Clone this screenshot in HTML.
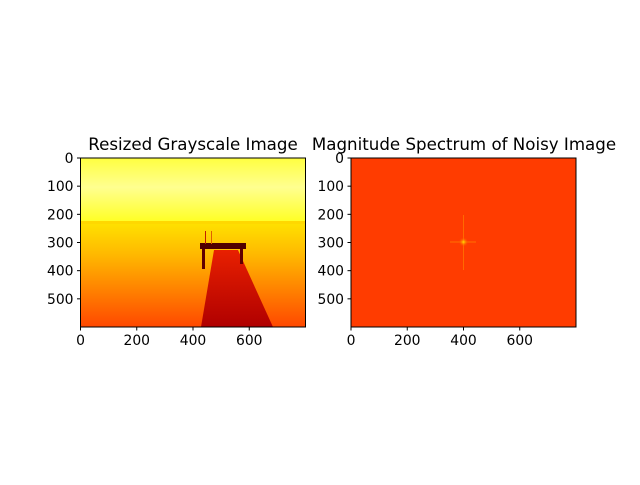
<!DOCTYPE html>
<html><head><meta charset="utf-8"><style>
body{margin:0;background:#fff;}
svg text{font-family:"DejaVu Sans","Liberation Sans",sans-serif;fill:#000;}
</style></head><body>
<svg id="fig" width="640" height="480" viewBox="0 0 640 480" xmlns="http://www.w3.org/2000/svg">
<defs>
<linearGradient id="sky" x1="0" y1="0" x2="0" y2="1">
<stop offset="0" stop-color="#ffff40"/><stop offset="0.45" stop-color="#ffff90"/><stop offset="1" stop-color="#ffff20"/>
</linearGradient>
<linearGradient id="water" x1="0" y1="0" x2="0" y2="1">
<stop offset="0" stop-color="#ffe000"/><stop offset="0.3" stop-color="#ffb800"/><stop offset="0.65" stop-color="#ff8000"/><stop offset="1" stop-color="#ff4800"/>
</linearGradient>
<radialGradient id="spot"><stop offset="0" stop-color="#ffe000"/><stop offset="1" stop-color="#ff3a00" stop-opacity="0"/></radialGradient>
<linearGradient id="pier" x1="0" y1="0" x2="0" y2="1"><stop offset="0" stop-color="#e82000"/><stop offset="1" stop-color="#b00000"/></linearGradient>
</defs>
<g id="left">
<text x="193" y="150" font-size="16.67" text-anchor="middle">Resized Grayscale Image</text>
<rect x="80.5" y="158" width="225" height="65" fill="url(#sky)"/>
<rect x="80.5" y="221" width="225" height="3" fill="#ffd800"/>
<rect x="80.5" y="224" width="225" height="103" fill="url(#water)"/>
<polygon points="201,327 214,250 238,250 273,327" fill="url(#pier)"/>
<rect x="200" y="243" width="46" height="6" fill="#500000"/>
<rect x="202" y="249" width="3" height="20" fill="#600000"/>
<rect x="240" y="249" width="3" height="15" fill="#600000"/>
<rect x="205" y="231" width="1" height="13" fill="#c02000"/>
<rect x="211" y="231" width="1" height="13" fill="#e06000"/>
<rect x="80.5" y="158" width="225" height="169" fill="none" stroke="#000" stroke-width="1"/>
<g id="lticks"></g>
</g>
<g id="right">
<text x="464" y="150" font-size="16.67" text-anchor="middle">Magnitude Spectrum of Noisy Image</text>
<rect x="351" y="158" width="225" height="169" fill="#ff3c00"/>
<rect x="463" y="215" width="1" height="55" fill="#ff6a00"/>
<rect x="450" y="241.5" width="26" height="1" fill="#ff7000"/>
<circle cx="463.5" cy="242" r="5" fill="url(#spot)"/>
<rect x="351" y="158" width="225" height="169" fill="none" stroke="#000" stroke-width="1"/>
<g id="rticks"></g>
</g>
</svg>
<script>
const xTicks=[0,200,400,600];
const yTicks=[0,100,200,300,400,500];
const W=800,H=600;
const NS="http://www.w3.org/2000/svg";
function axes(g,x0,y0,w,h,pre){
  const sx=v=>x0+v*w/W, sy=v=>y0+v*h/H;
  xTicks.forEach(v=>{
    const l=document.createElementNS(NS,"line");
    l.setAttribute("x1",sx(v));l.setAttribute("x2",sx(v));l.setAttribute("y1",y0+h);l.setAttribute("y2",y0+h+3.5);l.setAttribute("stroke","#000");
    
    
    g.appendChild(l);
    const t=document.createElementNS(NS,"text");
    t.setAttribute("x",sx(v));t.setAttribute("y",y0+h+18);t.setAttribute("font-size","13.9");t.setAttribute("text-anchor","middle");t.textContent=v;
    
    
    g.appendChild(t);
  });
  yTicks.forEach(v=>{
    const l=document.createElementNS(NS,"line");
    l.setAttribute("x1",x0-3.5);l.setAttribute("x2",x0);l.setAttribute("y1",sy(v));l.setAttribute("y2",sy(v));l.setAttribute("stroke","#000");
    
    
    g.appendChild(l);
    const t=document.createElementNS(NS,"text");
    t.setAttribute("x",x0-7);t.setAttribute("y",sy(v)+5);t.setAttribute("font-size","13.9");t.setAttribute("text-anchor","end");t.textContent=v;
    
    
    g.appendChild(t);
  });
}
axes(document.getElementById("lticks"),80.5,158,225,169);
axes(document.getElementById("rticks"),351,158,225,169);
</script>
</body></html>
